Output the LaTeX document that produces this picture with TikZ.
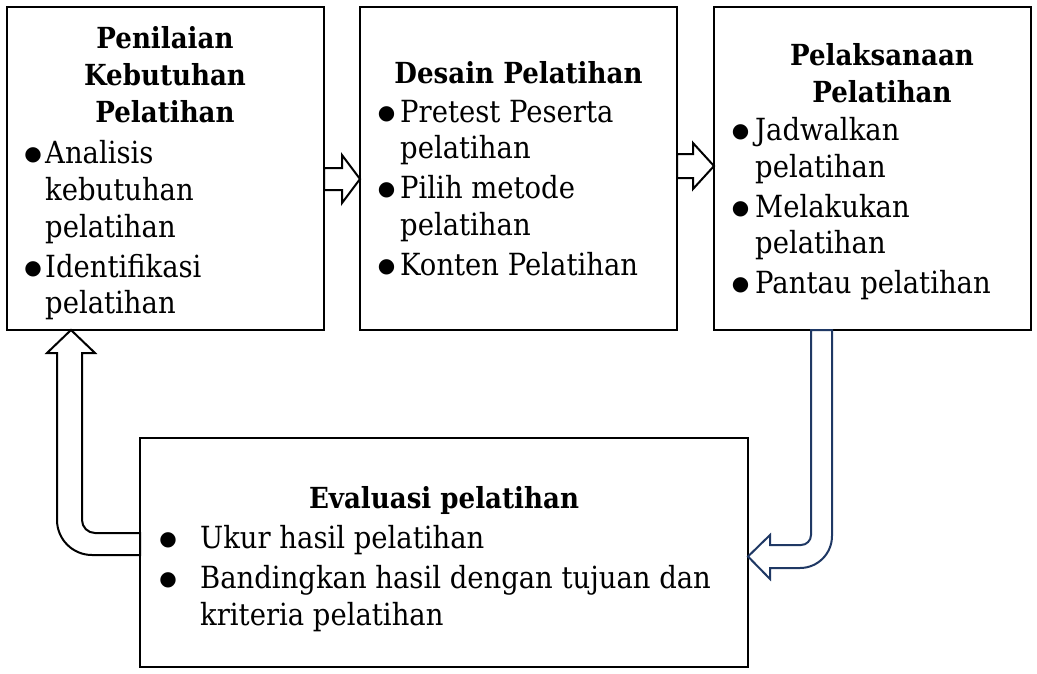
\documentclass[tikz,border=0pt]{standalone}
\usepackage{fontspec}
\setmainfont{DejaVu Serif}[FakeStretch=0.9]
\newfontfamily\symfont{DejaVu Sans}
\definecolor{navy}{RGB}{31,56,100}
\begin{document}
\begin{tikzpicture}[x=1pt,y=-1pt,
  box/.style={draw,line width=2.4pt,inner sep=0pt,outer sep=0pt},
  body/.style={anchor=base west,inner sep=0pt,font=\fontsize{30.5}{36}\selectfont},
  ttl/.style={anchor=base,inner sep=0pt,font=\fontsize{29}{34}\selectfont\bfseries},
  bul/.style={anchor=base,inner sep=0pt,font=\symfont\fontsize{20}{20}\selectfont},
  blockarrow/.style={draw,fill=white,line width=2pt,line join=miter}]
\useasboundingbox (0,0) rectangle (1037,673);
% boxes
\node[box,minimum width=317pt,minimum height=323pt] (b1) at (165.5,168.5) {};
\node[box,minimum width=317pt,minimum height=323pt] (b2) at (518.5,168.5) {};
\node[box,minimum width=317pt,minimum height=323pt] (b3) at (872.5,168.5) {};
\node[box,minimum width=608pt,minimum height=229pt] (b4) at (444,552.5) {};
% box 1 text
\node[ttl] (t1a) at (165,48) {Penilaian};
\node[ttl] (t1b) at (165,85) {Kebutuhan};
\node[ttl] (t1c) at (165,122) {Pelatihan};
\node[bul] (u1a) at (33,160) {●};
\node[body] (l1a) at (45,163) {Analisis};
\node[body] (l1b) at (45,200) {kebutuhan};
\node[body] (l1c) at (45,237) {pelatihan};
\node[bul] (u1b) at (33,274) {●};
\node[body] (l1d) at (45,277) {Identifikasi};
\node[body] (l1e) at (45,313) {pelatihan};
% box 2 text
\node[ttl] (t2a) at (518.5,83) {Desain Pelatihan};
\node[bul] (u2a) at (386.5,119) {●};
\node[body] (l2a) at (400,122) {Pretest Peserta};
\node[body] (l2b) at (400,158) {pelatihan};
\node[bul] (u2b) at (386.5,195) {●};
\node[body] (l2c) at (400,198) {Pilih metode};
\node[body] (l2d) at (400,235) {pelatihan};
\node[bul] (u2c) at (386.5,272) {●};
\node[body] (l2e) at (400,275) {Konten Pelatihan};
% box 3 text
\node[ttl] (t3a) at (882,65) {Pelaksanaan};
\node[ttl] (t3b) at (882,102) {Pelatihan};
\node[bul] (u3a) at (740.5,137) {●};
\node[body] (l3a) at (755,140) {Jadwalkan};
\node[body] (l3b) at (755,177) {pelatihan};
\node[bul] (u3b) at (740.5,214) {●};
\node[body] (l3c) at (755,217) {Melakukan};
\node[body] (l3d) at (755,253) {pelatihan};
\node[bul] (u3c) at (740.5,290) {●};
\node[body] (l3e) at (755,293) {Pantau pelatihan};
% box 4 text
\node[ttl] (t4a) at (444,508) {Evaluasi pelatihan};
\node[bul] (u4a) at (168,545) {●};
\node[body] (l4a) at (200,548) {Ukur hasil pelatihan};
\node[bul] (u4b) at (168,585) {●};
\node[body] (l4b) at (200,588) {Bandingkan hasil dengan tujuan dan};
\node[body] (l4c) at (200,625) {kriteria pelatihan};
% arrow b1 -> b2
\draw[blockarrow] (b1.east |- 0,168) -- (342,168) -- (342,155) -- (b2.west |- 0,179)
  -- (342,203) -- (342,190) -- (b1.east |- 0,190) -- cycle;
% arrow b2 -> b3
\draw[blockarrow] (b2.east |- 0,154) -- (693,154) -- (693,143) -- (b3.west |- 0,166)
  -- (693,189) -- (693,178) -- (b2.east |- 0,178) -- cycle;
% arrow b3 -> b4 (navy, bent)
\draw[blockarrow,draw=navy] (b3.south -| 811,0) -- (811,535)
  .. controls (811,540.5) and (806.5,545) .. (801,545) -- (770,545) -- (770,535)
  -- (b4.east |- 0,556.5) -- (770,579) -- (770,568) -- (800,568)
  .. controls (817.7,568) and (832,553.7) .. (832,536) -- (b3.south -| 832,0) -- cycle;
% arrow b4 -> b1 (bent)
\draw[blockarrow] (b4.west |- 0,533) -- (95,533)
  .. controls (87.8,533) and (82,527.2) .. (82,520) -- (82,353) -- (95,353)
  -- (b1.south -| 71,0) -- (47,353) -- (57,353) -- (57,520)
  .. controls (57,539.3) and (72.7,555) .. (92,555) -- (b4.west |- 0,555) -- cycle;
\end{tikzpicture}
\end{document}
